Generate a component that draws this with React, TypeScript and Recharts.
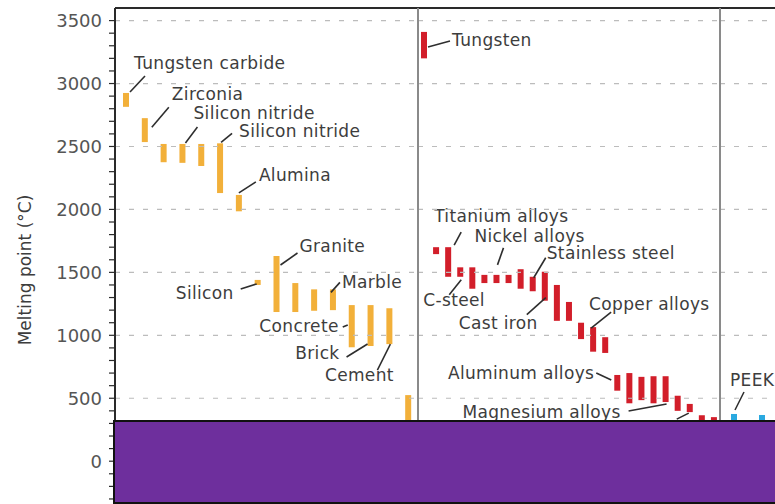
import React from "react";
import { BarChart, Bar, XAxis, YAxis, ReferenceLine } from "recharts";

// Melting point ranges (°C)
const ceramicNames = [
  "Tungsten carbide", "Zirconia", "Ceramic 3", "Silicon nitride", "Ceramic 5",
  "Silicon nitride 2", "Alumina", "Silicon", "Granite", "Stone 2", "Stone 3",
  "Marble", "Concrete", "Brick", "Cement", "Glass",
];
const ceramicLow = [2815, 2535, 2375, 2370, 2345, 2130, 1985, 1400, 1185, 1185, 1195, 1200, 905, 915, 930, 150];
const ceramicHigh = [2925, 2725, 2520, 2520, 2520, 2525, 2115, 1440, 1630, 1415, 1365, 1365, 1240, 1240, 1215, 525];

const metalNames = [
  "Tungsten", "Metal 2", "Titanium alloys", "C-steel", "Metal 5", "Metal 6",
  "Nickel alloys", "Metal 8", "Metal 9", "Stainless steel", "Cast iron", "Metal 12",
  "Metal 13", "Metal 14", "Copper alloys", "Metal 16", "Aluminum alloys", "Metal 18",
  "Metal 19", "Metal 20", "Magnesium alloys", "Metal 22", "Metal 23", "Metal 24", "Metal 25",
];
const metalLow = [3200, 1645, 1465, 1465, 1370, 1415, 1415, 1415, 1370, 1350, 1275, 1115, 1115, 970, 870, 860, 560, 460, 485, 460, 470, 400, 390, 200, 200];
const metalHigh = [3410, 1700, 1700, 1540, 1540, 1480, 1480, 1480, 1525, 1465, 1505, 1400, 1265, 1100, 1065, 985, 685, 700, 670, 675, 675, 520, 455, 365, 350];

const polymerNames = ["PEEK", "Polymer 2"];
const polymerLow = [200, 200];
const polymerHigh = [375, 367];

const gridValues = [500, 1000, 1500, 2000, 2500, 3000, 3500];
const Y_DOMAIN: [number, number] = [-340, 3600];
const yTicks = Array.from({ length: 39 }, (_, i) => -300 + i * 100);

const ORANGE = "#F2B03A";
const RED = "#D21E2A";
const BLUE = "#2AA9E0";
const TEXT = "#3d3d3d";
const FONT = "DejaVu Sans";

type Note = {
  name: string;
  anchor: "top" | "bottom";
  line: number[];
  text: string;
  tx: number;
  ty: number;
  align?: "start" | "middle" | "end";
};

// callout offsets (px) relative to the bar's top or bottom centre
const ceramicNotes: Note[] = [
  { name: "Tungsten carbide", anchor: "top", line: [4, -1, 19, -17], text: "Tungsten carbide", tx: 8, ty: -30 },
  { name: "Zirconia", anchor: "top", line: [7, 9, 24, -11], text: "Zirconia", tx: 27, ty: -24 },
  { name: "Silicon nitride", anchor: "top", line: [3, -1, 15, -17], text: "Silicon nitride", tx: 11, ty: -31 },
  { name: "Silicon nitride 2", anchor: "top", line: [1, -1, 12, -10], text: "Silicon nitride", tx: 19, ty: -12 },
  { name: "Alumina", anchor: "top", line: [0, -2, 17, -13], text: "Alumina", tx: 20, ty: -20 },
  { name: "Silicon", anchor: "top", line: [-17, 9, -1, 4], text: "Silicon", tx: -24, ty: 13, align: "end" },
  { name: "Granite", anchor: "top", line: [4, 9, 21, -3], text: "Granite", tx: 23, ty: -10 },
  { name: "Marble", anchor: "top", line: [-2, 3, 7, -7], text: "Marble", tx: 9, ty: -7 },
  { name: "Concrete", anchor: "top", line: [-9, 22, -4, 20], text: "Concrete", tx: -13, ty: 21, align: "end" },
  { name: "Brick", anchor: "bottom", line: [-24, 11, -3, -2], text: "Brick", tx: -31, ty: 7, align: "end" },
  { name: "Cement", anchor: "bottom", line: [-12, 26, 1, 0], text: "Cement", tx: -30, ty: 31, align: "middle" },
];

const metalNotes: Note[] = [
  { name: "Tungsten", anchor: "top", line: [4, 15, 26, 9], text: "Tungsten", tx: 28, ty: 8 },
  { name: "Titanium alloys", anchor: "top", line: [6, -2, 13, -15], text: "Titanium alloys", tx: -14, ty: -31 },
  { name: "Nickel alloys", anchor: "top", line: [1, -10, 7, -27], text: "Nickel alloys", tx: -22, ty: -39 },
  { name: "Stainless steel", anchor: "top", line: [1, 1, 13, -19], text: "Stainless steel", tx: 14, ty: -24 },
  { name: "C-steel", anchor: "bottom", line: [-11, 18, 1, 3], text: "C-steel", tx: -37, ty: 23 },
  { name: "Cast iron", anchor: "bottom", line: [-18, 14, 1, -3], text: "Cast iron", tx: -86, ty: 22 },
  { name: "Copper alloys", anchor: "top", line: [-2, 1, 18, -15], text: "Copper alloys", tx: -4, ty: -23 },
  { name: "Aluminum alloys", anchor: "top", line: [-21, -2, -6, 5], text: "Aluminum alloys", tx: -23, ty: -2, align: "end" },
  { name: "Magnesium alloys", anchor: "bottom", line: [-37, 9, 1, 2], text: "Magnesium alloys", tx: -45, ty: 10, align: "end" },
  { name: "Metal 23", anchor: "bottom", line: [-13, 7, -1, 1], text: "", tx: 0, ty: 0 },
];

const polymerNotes: Note[] = [
  { name: "PEEK", anchor: "top", line: [1, -4, 10, -22], text: "PEEK", tx: -4, ty: -34 },
];

const toRows = (names: string[], low: number[], high: number[]) =>
  names.map((name, i) => ({ name, range: [low[i], high[i]] }));

const ceramics = toRows(ceramicNames, ceramicLow, ceramicHigh);
const metals = toRows(metalNames, metalLow, metalHigh);
const polymers = toRows(polymerNames, polymerLow, polymerHigh);

const makeShape = (color: string, notes: Note[]) => (props: any) => {
  const { x, y, width, height, payload } = props;
  const top = Math.min(y, y + height);
  const h = Math.max(Math.abs(height), 1);
  const cx = x + width / 2;
  const note = notes.find((n) => n.name === payload?.name);
  const ay = note && note.anchor === "bottom" ? top + h : top;
  return (
    <g>
      <rect x={x} y={top} width={width} height={h} fill={color} />
      {note && (
        <g>
          <line
            x1={cx + note.line[0]}
            y1={ay + note.line[1]}
            x2={cx + note.line[2]}
            y2={ay + note.line[3]}
            stroke="#2e2e2e"
            strokeWidth={1.6}
          />
          {note.text && (
            <text
              x={cx + note.tx}
              y={ay + note.ty}
              textAnchor={note.align || "start"}
              dominantBaseline="central"
              fontSize={17}
              letterSpacing={0.35}
              fontFamily={FONT}
              fill={TEXT}
            >
              {note.text}
            </text>
          )}
        </g>
      )}
    </g>
  );
};

const gridLines = () =>
  gridValues.map((v) => (
    <ReferenceLine key={v} y={v} stroke="#bcbcbc" strokeDasharray="5 9" strokeWidth={1.2} />
  ));

const AxisTitle = (props: any) => {
  const vb = props.viewBox || { x: 0, y: 8, height: 496 };
  const cx = 25;
  const cy = vb.y + vb.height / 2 + 14;
  return (
    <text
      x={cx}
      y={cy}
      transform={`rotate(-90 ${cx} ${cy})`}
      textAnchor="middle"
      dominantBaseline="central"
      fontSize={17}
      fontFamily={FONT}
      fill={TEXT}
    >
      Melting point (°C)
    </text>
  );
};

const H = 504;

export default function App() {
  return (
    <div
      style={{
        position: "absolute",
        left: 0,
        top: 0,
        width: 775,
        height: H,
        overflow: "hidden",
        background: "#fff",
      }}
    >
      {/* ceramics panel with the value axis */}
      <div style={{ position: "absolute", left: 0, top: 0 }}>
        <BarChart width={418} height={H} data={ceramics} margin={{ top: 7, right: 0, bottom: 0, left: 0 }}>
          <XAxis
            dataKey="name"
            orientation="top"
            height={1}
            tick={false}
            tickLine={false}
            axisLine={{ stroke: "#2a2a2a", strokeWidth: 2 }}
            padding={{ left: 2, right: 0 }}
          />
          <YAxis
            type="number"
            domain={Y_DOMAIN}
            ticks={yTicks}
            interval={0}
            allowDataOverflow
            width={115}
            tickSize={6}
            tickMargin={7}
            tickFormatter={(v: number) => (v % 500 === 0 ? String(v) : "")}
            tick={{ fontSize: 18, fill: "#555", fontFamily: FONT }}
            tickLine={{ stroke: "#2a2a2a", strokeWidth: 1.2 }}
            axisLine={{ stroke: "#2a2a2a", strokeWidth: 2 }}
            label={<AxisTitle />}
          />
          {gridLines()}
          <Bar dataKey="range" barSize={6} isAnimationActive={false} shape={makeShape(ORANGE, ceramicNotes)} />
        </BarChart>
      </div>

      {/* metals panel */}
      <div style={{ position: "absolute", left: 417, top: 0 }}>
        <BarChart width={304} height={H} data={metals} margin={{ top: 7, right: 1, bottom: 0, left: 0 }}>
          <XAxis
            dataKey="name"
            orientation="top"
            height={1}
            tick={false}
            tickLine={false}
            axisLine={{ stroke: "#2a2a2a", strokeWidth: 2 }}
          />
          <YAxis
            type="number"
            domain={Y_DOMAIN}
            allowDataOverflow
            width={1}
            tick={false}
            tickLine={false}
            axisLine={{ stroke: "#8a8a8a", strokeWidth: 2 }}
          />
          {gridLines()}
          <Bar dataKey="range" barSize={6} isAnimationActive={false} shape={makeShape(RED, metalNotes)} />
        </BarChart>
      </div>

      {/* polymers panel (cut off at the right edge) */}
      <div style={{ position: "absolute", left: 719, top: 0 }}>
        <BarChart width={57} height={H} data={polymers} margin={{ top: 7, right: 0, bottom: 0, left: 0 }}>
          <XAxis
            dataKey="name"
            orientation="top"
            height={1}
            tick={false}
            tickLine={false}
            axisLine={{ stroke: "#2a2a2a", strokeWidth: 2 }}
          />
          <YAxis
            type="number"
            domain={Y_DOMAIN}
            allowDataOverflow
            width={1}
            tick={false}
            tickLine={false}
            axisLine={{ stroke: "#8a8a8a", strokeWidth: 2 }}
          />
          {gridLines()}
          <Bar dataKey="range" barSize={6} isAnimationActive={false} shape={makeShape(BLUE, polymerNotes)} />
        </BarChart>
      </div>

      {/* purple redaction block over the lower part of the plot */}
      <div
        style={{
          position: "absolute",
          left: 113,
          top: 420,
          width: 670,
          height: 84,
          boxSizing: "border-box",
          border: "2px solid #111",
          background: "#6E2F9D",
        }}
      />
    </div>
  );
}
